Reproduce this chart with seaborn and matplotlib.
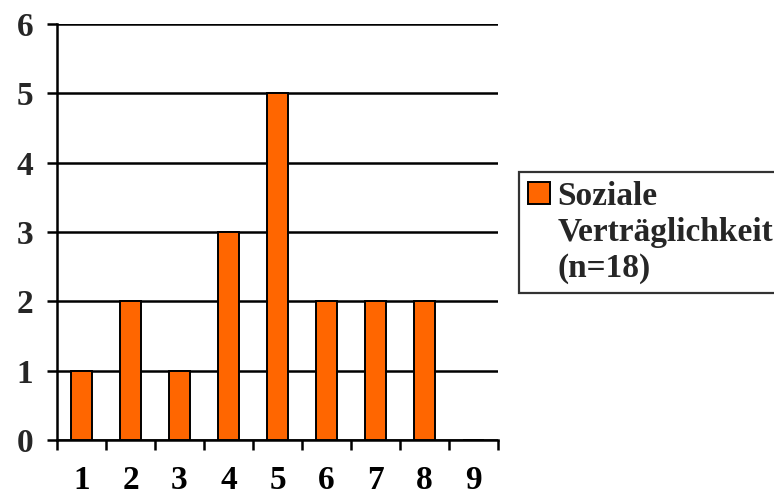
import matplotlib
matplotlib.use("Agg")
import matplotlib.pyplot as plt
import seaborn as sns
import pandas as pd
from matplotlib.patches import Rectangle

categories = ["1", "2", "3", "4", "5", "6", "7", "8", "9"]
values = [1, 2, 1, 3, 5, 2, 2, 2, 0]
legend_lines = ["Soziale", "Verträglichkeit", "(n=18)"]
yticks = [0, 1, 2, 3, 4, 5, 6]

sns.set_theme(style="white")
plt.rcParams["font.family"] = ["Liberation Serif", "DejaVu Serif"]
plt.rcParams["font.weight"] = "bold"

df = pd.DataFrame({"cat": categories, "val": values})

fig = plt.figure(figsize=(7.74, 4.98), dpi=100)
ax = fig.add_axes([57/774, 1-440/498, (498-57)/774, (440-24)/498])

sns.barplot(data=df, x="cat", y="val", color="#FF6600", edgecolor="black",
            linewidth=1.4, width=0.41, saturation=1, ax=ax, zorder=3)

ax.set_xlim(-0.5, len(categories) - 0.5)
ax.set_ylim(0, 6)
ax.set_yticks(yticks)
ax.set_yticklabels([str(t) for t in yticks], fontsize=24, fontweight="bold")
ax.yaxis.grid(True, color="black", linewidth=1.8, zorder=0)
ax.set_axisbelow(True)
ax.set_xlabel("")
ax.set_ylabel("")

for s in ["top", "right"]:
    ax.spines[s].set_visible(False)
for s in ["left", "bottom"]:
    ax.spines[s].set_color("black")
    ax.spines[s].set_linewidth(1.8)

ax.set_xticks(range(len(categories)))
ax.set_xticklabels(categories, fontsize=24, fontweight="bold")
ax.set_xticks([i - 0.5 for i in range(len(categories) + 1)], minor=True)
ax.tick_params(axis="x", which="major", length=0, pad=18, colors="black")
ax.tick_params(axis="x", which="minor", length=7, width=1.8, color="black", bottom=True)
ax.tick_params(axis="y", which="major", length=7, width=1.8, color="black", left=True, pad=10)

bar = ax.patches[0]
blank1 = Rectangle((0, 0), 1, 1, facecolor="none", edgecolor="none")
blank2 = Rectangle((0, 0), 1, 1, facecolor="none", edgecolor="none")
leg = ax.legend(handles=[bar, blank1, blank2], labels=legend_lines,
                loc="upper left", bbox_to_anchor=(519/774, 1-172/498),
                bbox_transform=fig.transFigure, borderaxespad=0,
                frameon=True, fancybox=False, edgecolor="black",
                prop={"family": ["Liberation Serif", "DejaVu Serif"], "weight": "bold", "size": 24},
                handlelength=0.68, handleheight=0.68, handletextpad=0.22,
                labelspacing=0.15, borderpad=0.26)
leg.get_frame().set_linewidth(1.6)
leg.set_clip_on(False)

fig.savefig("out.png", dpi=100)
